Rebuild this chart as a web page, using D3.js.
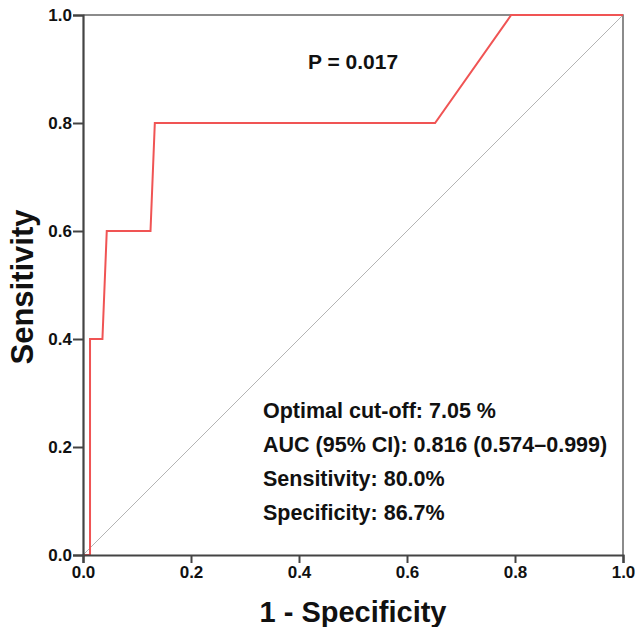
<!DOCTYPE html>
<html>
<head>
<meta charset="utf-8">
<script src="https://cdn.jsdelivr.net/npm/d3@7/dist/d3.min.js"></script>
<style>
  body { margin: 0; background: #fff; }
  svg text { font-family: Arial, "Liberation Sans", sans-serif; font-weight: bold; fill: #111; }
</style>
</head>
<body>
<svg id="chart" width="635" height="627"></svg>
<script>
// ROC curve
const fpr = [0, 0.013, 0.013, 0.036, 0.044, 0.125, 0.133, 0.652, 0.793, 1.0];
const tpr = [0, 0, 0.4, 0.4, 0.6, 0.6, 0.8, 0.8, 1.0, 1.0];
const xTicks = [0, 0.2, 0.4, 0.6, 0.8, 1.0];
const yTicks = [0, 0.2, 0.4, 0.6, 0.8, 1.0];
const pText = "P = 0.017";
const notes = [
  "Optimal cut-off: 7.05 %",
  "AUC (95% CI): 0.816 (0.574\u20130.999)",
  "Sensitivity: 80.0%",
  "Specificity: 86.7%"
];

const svg = d3.select('#chart');
const m = { left: 83, top: 15, w: 540, h: 540 };

const x = d3.scaleLinear().domain([0, 1]).range([m.left, m.left + m.w]);
const y = d3.scaleLinear().domain([0, 1]).range([m.top + m.h, m.top]);

// frame (top + right)
svg.append('path')
  .attr('d', `M${x(0)},${y(1)}H${x(1)}V${y(0)}`)
  .attr('fill', 'none').attr('stroke', '#666').attr('stroke-width', 1.5);

// diagonal reference
svg.append('line')
  .attr('x1', x(0)).attr('y1', y(0)).attr('x2', x(1)).attr('y2', y(1))
  .attr('stroke', '#b4b4b4').attr('stroke-width', 1);

// roc line
const pts = fpr.map((d, i) => [d, tpr[i]]);
svg.append('path')
  .datum(pts)
  .attr('d', d3.line().x(d => x(d[0])).y(d => y(d[1])))
  .attr('fill', 'none').attr('stroke', '#f05454').attr('stroke-width', 2);

const fmt = d3.format('.1f');

const xAxis = svg.append('g')
  .attr('transform', `translate(0,${y(0)})`)
  .call(d3.axisBottom(x).tickValues(xTicks).tickFormat(fmt).tickSize(8).tickPadding(3));
const yAxis = svg.append('g')
  .attr('transform', `translate(${x(0)},0)`)
  .call(d3.axisLeft(y).tickValues(yTicks).tickFormat(fmt).tickSize(10).tickPadding(1));

[xAxis, yAxis].forEach(g => {
  g.select('.domain').attr('stroke', '#444').attr('stroke-width', 2.2);
  g.selectAll('.tick line').attr('stroke', '#444').attr('stroke-width', 2);
  g.selectAll('.tick text').style('font-size', '17px').style('font-family', 'Arial, "Liberation Sans", sans-serif')
    .style('font-weight', 'bold').attr('fill', '#111');
});

// axis titles
svg.append('text')
  .attr('x', x(0.5)).attr('y', 622)
  .attr('text-anchor', 'middle')
  .style('font-size', '29px')
  .text('1 - Specificity');

svg.append('text')
  .attr('transform', `translate(33,${y(0.5) + 2}) rotate(-90)`)
  .attr('text-anchor', 'middle')
  .style('font-size', '31px')
  .text('Sensitivity');

// annotations
svg.append('text')
  .attr('x', 308).attr('y', 69)
  .style('font-size', '21px')
  .text(pText);

svg.append('g').selectAll('text')
  .data(notes)
  .join('text')
  .attr('x', 263)
  .attr('y', (d, i) => 418 + i * 34)
  .style('font-size', '21.5px')
  .text(d => d);
</script>
</body>
</html>
